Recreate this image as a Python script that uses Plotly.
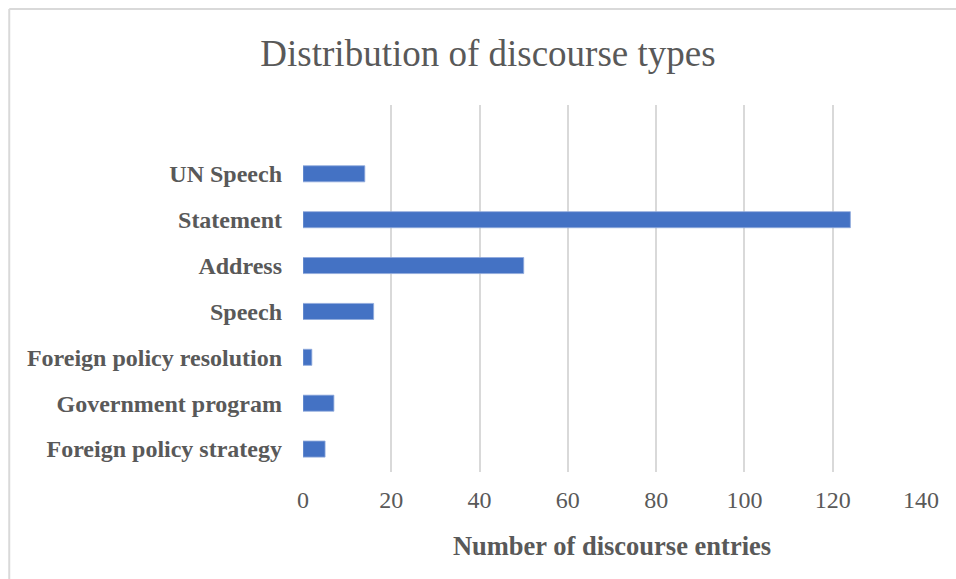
import plotly.graph_objects as go

categories = ["Foreign policy strategy", "Government program", "Foreign policy resolution",
              "Speech", "Address", "Statement", "UN Speech"]
values = [5, 7, 2, 16, 50, 124, 14]
x_ticks = [0, 20, 40, 60, 80, 100, 120, 140]

title_text = "Distribution of discourse types"
x_title = "Number of discourse entries"

GRAY_TEXT = "#595959"
GRID = "#d9d9d9"
BAR = "#4472C4"
SERIF = "Liberation Serif, Times New Roman, serif"

fig = go.Figure()
fig.add_trace(go.Bar(
    x=values, y=categories, orientation="h",
    marker=dict(color=BAR, line=dict(color="#8faadc", width=0.8)),
    width=0.35,
))

L, R, T, B = 302.5, 35, 105, 107
W, H = 956, 579
pw = W - L - R
ph = H - T - B

fig.update_layout(
    width=W, height=H,
    margin=dict(l=L, r=R, t=T, b=B, pad=0),
    paper_bgcolor="white", plot_bgcolor="white",
    showlegend=False,
    title=dict(text=title_text, x=488 / W, xanchor="center", xref="container",
               y=1 - 53 / H, yanchor="middle",
               font=dict(family=SERIF, size=37, color=GRAY_TEXT)),
    xaxis=dict(range=[0, 140], tickvals=x_ticks, showgrid=True, gridcolor=GRID,
               gridwidth=1.5, zeroline=False, showline=False,
               tickfont=dict(family=SERIF, size=24, color=GRAY_TEXT),
               ticklabelstandoff=11,
               title=dict(text="<b>" + x_title + "</b>", standoff=24,
                          font=dict(family=SERIF, size=26.5, color=GRAY_TEXT))),
    yaxis=dict(type="category", categoryorder="array", categoryarray=categories,
               range=[-0.5, 7.5], showgrid=False, zeroline=False, showline=False,
               tickfont=dict(family=SERIF, size=24, color=GRAY_TEXT, weight="bold"),
               ticklabelstandoff=20),
    shapes=[
        dict(type="line", xref="paper", yref="paper",
             x0=(8.5 - L) / pw, x1=(8.5 - L) / pw,
             y0=(H - B - 9) / ph, y1=(H - B - H - 5) / ph,
             line=dict(color=GRID, width=2)),
        dict(type="line", xref="paper", yref="paper",
             x0=(8.5 - L) / pw, x1=(W + 5 - L) / pw,
             y0=(H - B - 9) / ph, y1=(H - B - 9) / ph,
             line=dict(color=GRID, width=2)),
    ],
)

fig.write_html("out.html")
